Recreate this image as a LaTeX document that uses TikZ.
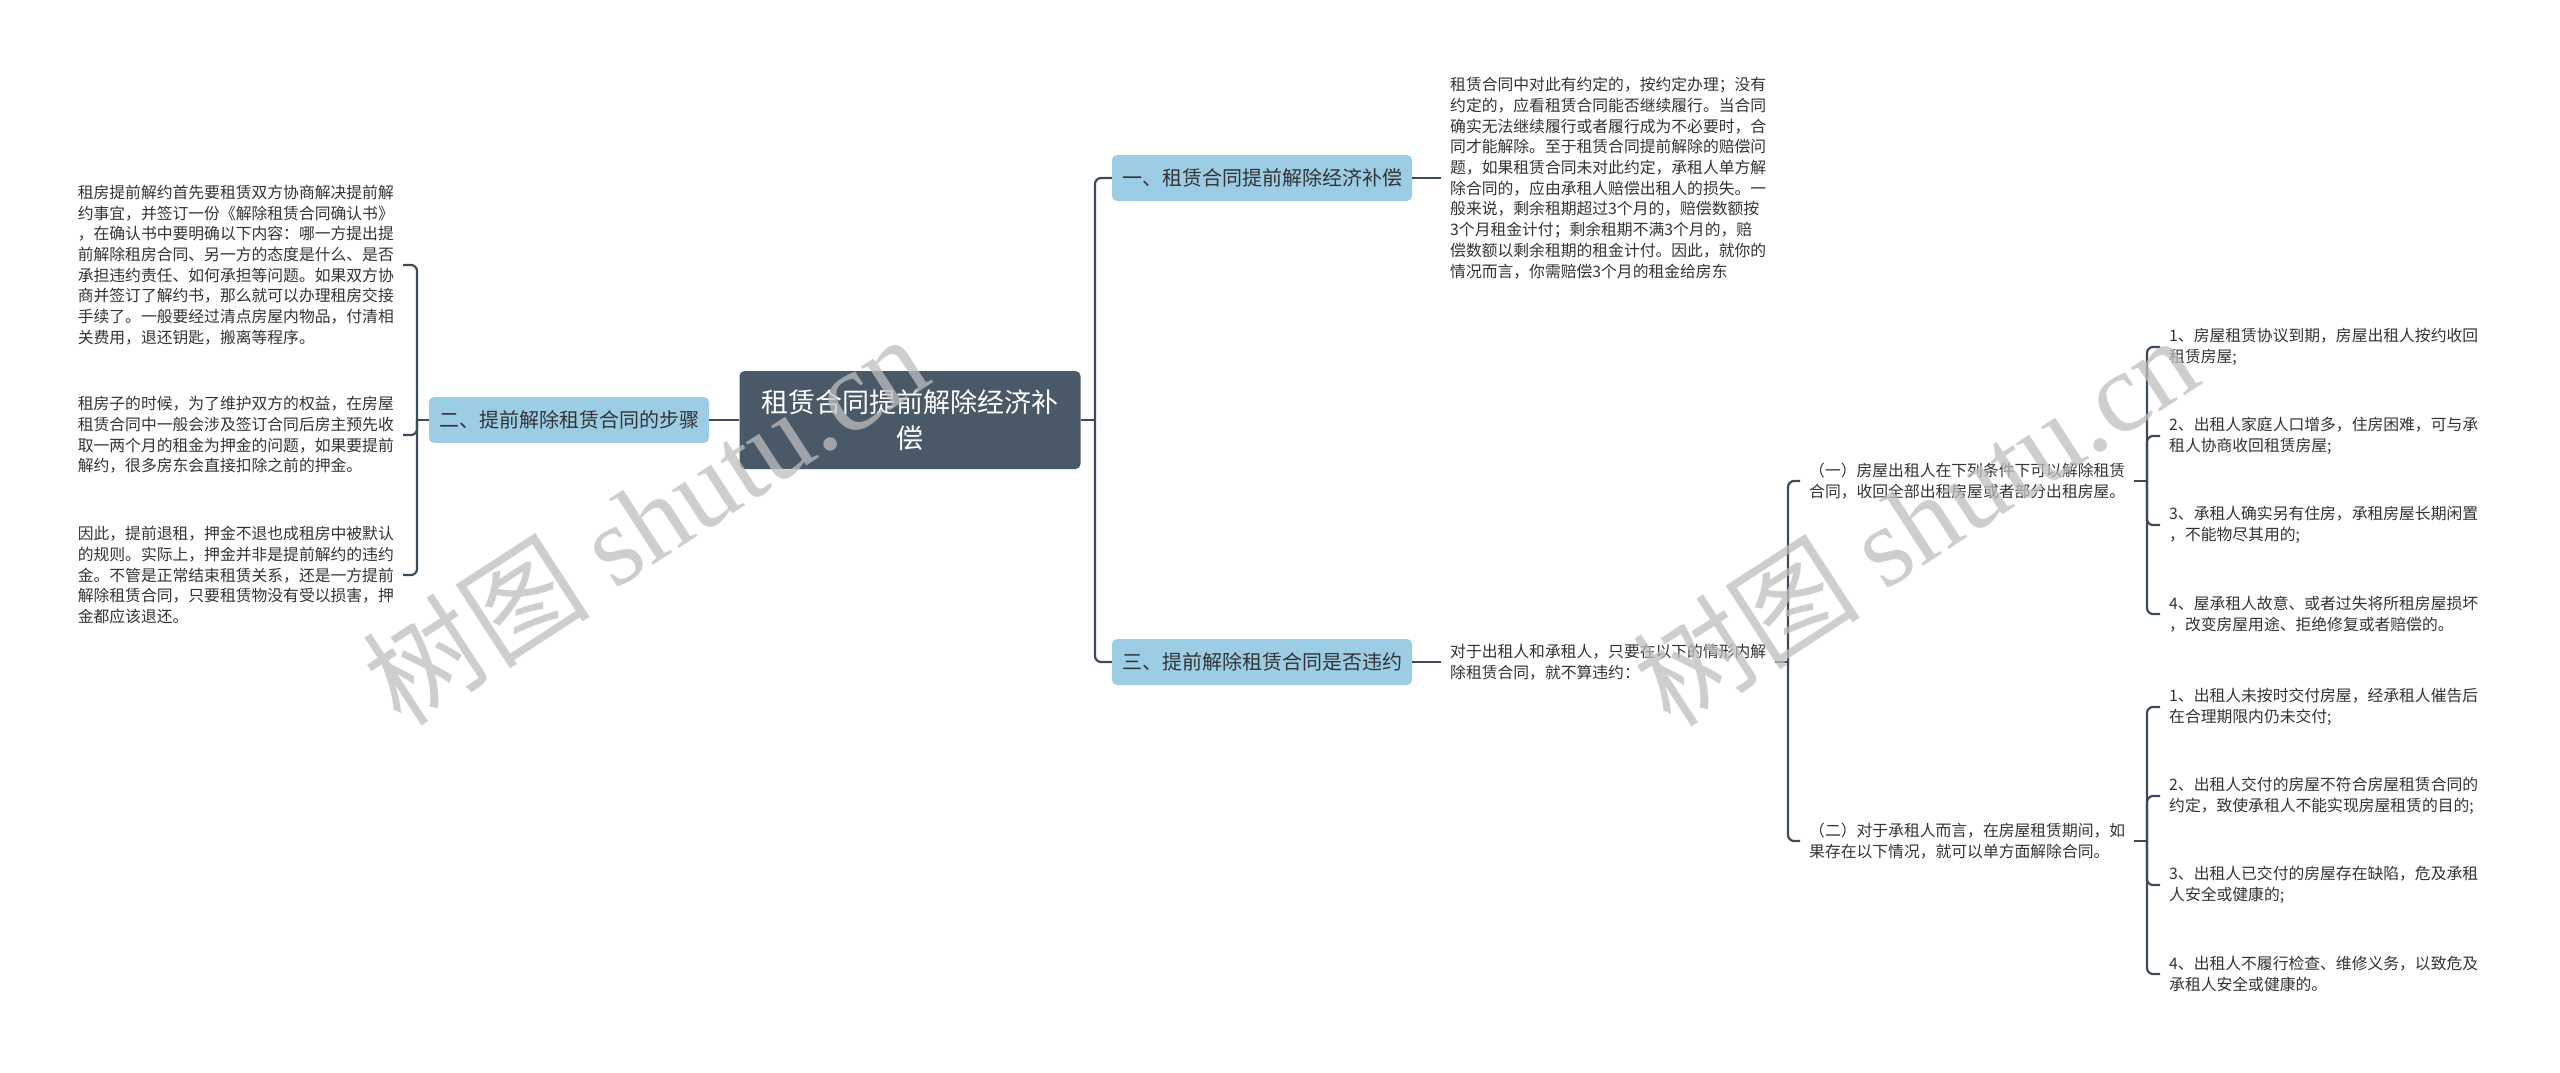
\documentclass[tikz,border=0pt]{standalone}
\usepackage{fontspec}
\setmainfont{Noto Sans CJK SC}
\newfontfamily\cjk{Noto Sans CJK SC}
\newfontfamily\wmlatin{Liberation Serif}
\definecolor{rootC}{HTML}{4A5967}
\definecolor{topicC}{HTML}{9DCDE5}
\definecolor{lineC}{HTML}{3D4B58}
\definecolor{textC}{HTML}{333333}
\definecolor{wmC}{RGB}{190,190,190}
\tikzset{
  conn/.style={draw=lineC, line width=2.2pt, rounded corners=6pt},
  rootbox/.style={fill=rootC, rounded corners=5pt, minimum width=341pt, minimum height=98pt,
    text=white, align=center, font=\fontsize{27}{36}\selectfont},
  topic/.style={fill=topicC, rounded corners=5pt, minimum height=46pt, text=textC,
    font=\fontsize{20}{24}\selectfont, inner xsep=10pt},
  body/.style={text=textC, align=left, font=\fontsize{15.8}{20.7}\selectfont, inner xsep=9pt, inner ysep=2pt},
  wm/.style={text=wmC, text opacity=0.75, font=\fontsize{114}{120}\selectfont},
}
\begin{document}
\begin{tikzpicture}[x=1pt,y=-1pt]
\fill[white] (0,0) rectangle (2560,1072);
\useasboundingbox (0,0) rectangle (2560,1072);

% root and topics
\node[rootbox] (root) at (910,420) {租赁合同提前解除经济补\\偿};
\node[topic] (t2) at (569,420) {二、提前解除租赁合同的步骤};
\node[topic] (t1) at (1262,178) {一、租赁合同提前解除经济补偿};
\node[topic] (t3) at (1262,662) {三、提前解除租赁合同是否违约};

% left texts
\node[body, anchor=east] (l1) at (403,265) {租房提前解约首先要租赁双方协商解决提前解\\约事宜，并签订一份《解除租赁合同确认书》\\，在确认书中要明确以下内容：哪一方提出提\\前解除租房合同、另一方的态度是什么、是否\\承担违约责任、如何承担等问题。如果双方协\\商并签订了解约书，那么就可以办理租房交接\\手续了。一般要经过清点房屋内物品，付清相\\关费用，退还钥匙，搬离等程序。};
\node[body, anchor=east] (l2) at (403,435) {租房子的时候，为了维护双方的权益，在房屋\\租赁合同中一般会涉及签订合同后房主预先收\\取一两个月的租金为押金的问题，如果要提前\\解约，很多房东会直接扣除之前的押金。};
\node[body, anchor=east] (l3) at (403,575) {因此，提前退租，押金不退也成租房中被默认\\的规则。实际上，押金并非是提前解约的违约\\金。不管是正常结束租赁关系，还是一方提前\\解除租赁合同，只要租赁物没有受以损害，押\\金都应该退还。};

% right texts
\node[body, anchor=west] (r1) at (1441,178) {租赁合同中对此有约定的，按约定办理；没有\\约定的，应看租赁合同能否继续履行。当合同\\确实无法继续履行或者履行成为不必要时，合\\同才能解除。至于租赁合同提前解除的赔偿问\\题，如果租赁合同未对此约定，承租人单方解\\除合同的，应由承租人赔偿出租人的损失。一\\般来说，剩余租期超过3个月的，赔偿数额按\\3个月租金计付；剩余租期不满3个月的，赔\\偿数额以剩余租期的租金计付。因此，就你的\\情况而言，你需赔偿3个月的租金给房东};
\node[body, anchor=west] (r3) at (1441,662) {对于出租人和承租人，只要在以下的情形内解\\除租赁合同，就不算违约：};

\node[body, anchor=west] (s1) at (1800,481) {（一）房屋出租人在下列条件下可以解除租赁\\合同，收回全部出租房屋或者部分出租房屋。};
\node[body, anchor=west] (s2) at (1800,841) {（二）对于承租人而言，在房屋租赁期间，如\\果存在以下情况，就可以单方面解除合同。};

\node[body, anchor=west] (a1) at (2160,347) {1、房屋租赁协议到期，房屋出租人按约收回\\租赁房屋;};
\node[body, anchor=west] (a2) at (2160,436) {2、出租人家庭人口增多，住房困难，可与承\\租人协商收回租赁房屋;};
\node[body, anchor=west] (a3) at (2160,525) {3、承租人确实另有住房，承租房屋长期闲置\\，不能物尽其用的;};
\node[body, anchor=west] (a4) at (2160,614) {4、屋承租人故意、或者过失将所租房屋损坏\\，改变房屋用途、拒绝修复或者赔偿的。};

\node[body, anchor=west] (b1) at (2160,707) {1、出租人未按时交付房屋，经承租人催告后\\在合理期限内仍未交付;};
\node[body, anchor=west] (b2) at (2160,796) {2、出租人交付的房屋不符合房屋租赁合同的\\约定，致使承租人不能实现房屋租赁的目的;};
\node[body, anchor=west] (b3) at (2160,885) {3、出租人已交付的房屋存在缺陷，危及承租\\人安全或健康的;};
\node[body, anchor=west] (b4) at (2160,974) {4、出租人不履行检查、维修义务，以致危及\\承租人安全或健康的。};

% junction coordinates
\coordinate (lb) at (417,420);
\coordinate (rt) at (1095,420);
\coordinate (rb) at (1788,662);
\coordinate (ab) at (2147,481);
\coordinate (bb) at (2147,841);

% connectors
\draw[conn] (root.west) -- (t2.east);
\draw[conn] (t2.west) -- (lb);
\draw[conn] (lb) |- (l1.east);
\draw[conn] (lb) |- (l2.east);
\draw[conn] (lb) |- (l3.east);

\draw[conn] (root.east) -- (rt);
\draw[conn] (rt) |- (t1.west);
\draw[conn] (rt) |- (t3.west);
\draw[conn] (t1.east) -- (r1.west);
\draw[conn] (t3.east) -- (r3.west);

\draw[conn] (r3.east) -- (rb);
\draw[conn] (rb) |- (s1.west);
\draw[conn] (rb) |- (s2.west);

\draw[conn] (s1.east) -- (ab);
\draw[conn] (ab) |- (a1.west);
\draw[conn] (ab) |- (a2.west);
\draw[conn] (ab) |- (a3.west);
\draw[conn] (ab) |- (a4.west);

\draw[conn] (s2.east) -- (bb);
\draw[conn] (bb) |- (b1.west);
\draw[conn] (bb) |- (b2.west);
\draw[conn] (bb) |- (b3.west);
\draw[conn] (bb) |- (b4.west);

% watermarks
\node[wm, rotate=33] (wm1) at (645,519) {{\cjk 树图} {\wmlatin shutu.cn}};
\node[wm, rotate=33] (wm2) at (1915,520) {{\cjk 树图} {\wmlatin shutu.cn}};
\end{tikzpicture}
\end{document}
